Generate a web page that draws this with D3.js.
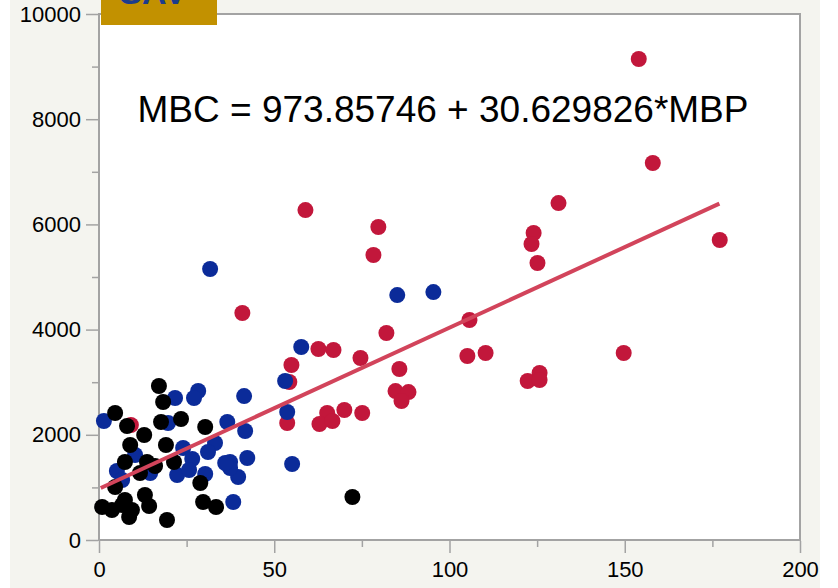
<!DOCTYPE html>
<html>
<head>
<meta charset="utf-8">
<script src="https://cdn.jsdelivr.net/npm/d3@7"></script>
<style>
  html, body { margin: 0; padding: 0; background: #ffffff; }
  svg { display: block; font-family: "Liberation Sans", Arial, Helvetica, sans-serif; }
</style>
</head>
<body>
<svg id="chart" width="838" height="588"></svg>
<script>
// MBP (x) / MBC (y) pairs, one array per group
const RED_X   = [9.1, 40.9, 58.9, 62.6, 66.9, 54.9, 54.3, 53.7, 65.1, 62.9, 66.6, 70.0, 75.1, 74.6, 82.0, 85.7,
                 84.6, 88.3, 86.3, 79.7, 78.3, 105.7, 105.1, 110.3, 131.1, 124.0, 123.4, 125.1, 122.3, 125.7, 125.7,
                 149.7, 154.0, 158.0, 177.1];
const RED_Y   = [2186, 4315, 6273, 3631, 3612, 3327, 3004, 2224, 2414, 2205, 2262, 2471, 2414, 3460, 3935, 3251,
                 2832, 2813, 2642, 5950, 5418, 4182, 3498, 3555, 6406, 5836, 5627, 5266, 3023, 3175, 3042,
                 3555, 9144, 7167, 5703];
const BLUE_X  = [1.4, 10.3, 5.1, 6.6, 14.6, 22.3, 21.7, 28.3, 27.1, 19.7, 36.6, 24.0, 33.1, 31.1, 26.6, 25.7,
                 30.3, 37.4, 42.3, 39.7, 37.4, 38.3, 41.4, 41.7, 31.7, 57.7, 53.1, 53.7, 55.1, 85.1, 95.4, 36.0];
const BLUE_Y  = [2262, 1616, 1312, 1141, 1274, 1236, 2700, 2833, 2700, 2224, 2243, 1749, 1844, 1673, 1540, 1331,
                 1255, 1483, 1559, 1198, 1369, 722, 2737, 2072, 5152, 3669, 3023, 2433, 1445, 4657, 4714, 1464];
const BLACK_X = [17.1, 18.3, 4.6, 8.0, 12.9, 17.7, 23.4, 8.9, 19.1, 7.4, 13.7, 16.0, 21.4, 11.7, 4.6, 0.9,
                 3.7, 7.4, 8.6, 13.1, 14.3, 19.4, 6.6, 30.3, 28.9, 29.7, 33.4, 72.3, 9.4];
const BLACK_Y = [2928, 2624, 2415, 2167, 1996, 2243, 2300, 1806, 1806, 1483, 1483, 1407, 1483, 1274, 1008, 627,
                 570, 760, 437, 855, 646, 380, 665, 2148, 1084, 722, 627, 817, 570];

const FIT_A = 973.85746, FIT_B = 30.629826;
const FIT_RANGE = [0.5, 177];
const X_TICKS = [0, 50, 100, 150, 200];
const Y_TICKS = [0, 2000, 4000, 6000, 8000, 10000];
const GROUP_LABEL = "SAV";
const EQUATION = "MBC = 973.85746 + 30.629826*MBP";

const svg = d3.select("#chart");
const margin = { left: 99, right: 38, top: 14, bottom: 48 };
const W = 838, H = 588;

// panel background
svg.append("rect").attr("x", 10).attr("y", 0).attr("width", 810).attr("height", H)
  .attr("fill", "#f4f4ef");

const x = d3.scaleLinear().domain([0, 200]).range([margin.left, W - margin.right]);
const y = d3.scaleLinear().domain([0, 10000]).range([H - margin.bottom, margin.top]);

// plot frame
svg.append("rect")
  .attr("x", x(0)).attr("y", y(10000))
  .attr("width", x(200) - x(0)).attr("height", y(0) - y(10000))
  .attr("fill", "#ffffff").attr("stroke", "#a3a3a3").attr("stroke-width", 2);

// minor ticks
svg.append("g").attr("transform", `translate(${x(0) - 1},0)`)
  .call(d3.axisLeft(y).tickValues(d3.range(1000, 10000, 2000)).tickSize(6).tickFormat(""))
  .call(g => g.select(".domain").remove())
  .selectAll("line").attr("stroke", "#a3a3a3").attr("stroke-width", 1.5);
svg.append("g").attr("transform", `translate(0,${y(0) + 1})`)
  .call(d3.axisBottom(x).tickValues(d3.range(25, 200, 50)).tickSize(6).tickFormat(""))
  .call(g => g.select(".domain").remove())
  .selectAll("line").attr("stroke", "#a3a3a3").attr("stroke-width", 1.5);

// major axes
const yAxis = svg.append("g").attr("transform", `translate(${x(0) - 1},0)`)
  .call(d3.axisLeft(y).tickValues(Y_TICKS).tickSize(12).tickPadding(5).tickFormat(d3.format("d")));
yAxis.select(".domain").remove();
yAxis.selectAll("line").attr("stroke", "#a3a3a3").attr("stroke-width", 1.5);
yAxis.selectAll("text").attr("fill", "#000").style("font-size", "22px")
  .style("font-family", "'Liberation Sans', Arial, sans-serif");

const xAxis = svg.append("g").attr("transform", `translate(0,${y(0) + 1})`)
  .call(d3.axisBottom(x).tickValues(X_TICKS).tickSize(12).tickPadding(8));
xAxis.select(".domain").remove();
xAxis.selectAll("line").attr("stroke", "#a3a3a3").attr("stroke-width", 1.5);
xAxis.selectAll("text").attr("fill", "#000").style("font-size", "22px")
  .style("font-family", "'Liberation Sans', Arial, sans-serif");

// points: red, then blue, then black on top
const groups = [
  { xs: RED_X,   ys: RED_Y,   color: "#c2173b" },
  { xs: BLUE_X,  ys: BLUE_Y,  color: "#0b2b99" },
  { xs: BLACK_X, ys: BLACK_Y, color: "#000000" }
];
groups.forEach(gr => {
  svg.append("g").selectAll("circle")
    .data(d3.zip(gr.xs, gr.ys))
    .join("circle")
    .attr("cx", d => x(d[0]))
    .attr("cy", d => y(d[1]))
    .attr("r", 8)
    .attr("fill", gr.color);
});

// fit line
svg.append("path")
  .datum(FIT_RANGE)
  .attr("fill", "none")
  .attr("stroke", "#d2445b")
  .attr("stroke-width", 4)
  .attr("d", d3.line().x(d => x(d)).y(d => y(FIT_A + FIT_B * d)));

// equation
svg.append("text")
  .attr("x", 443).attr("y", 122)
  .attr("text-anchor", "middle")
  .style("font-size", "37px")
  .attr("fill", "#000")
  .text(EQUATION);

// group label box; the label runs off the top edge as in the source
svg.append("rect").attr("x", 101).attr("y", 0).attr("width", 116).attr("height", 25)
  .attr("fill", "#c29100");
svg.append("text")
  .attr("x", 153).attr("y", 4)
  .attr("text-anchor", "middle")
  .style("font-size", "34px").style("font-weight", "bold")
  .attr("fill", "#1c3c8c")
  .text(GROUP_LABEL);
</script>
</body>
</html>
